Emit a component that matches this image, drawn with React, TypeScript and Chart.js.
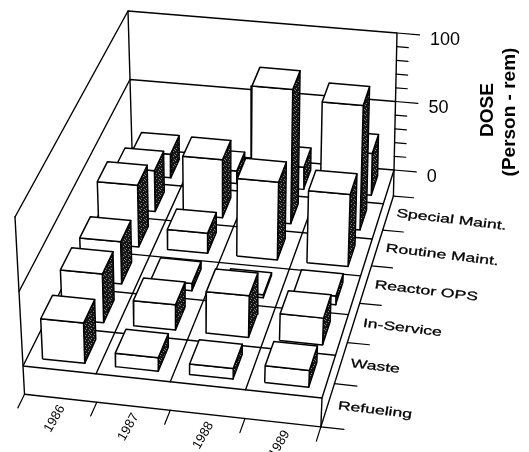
import React, { useEffect, useRef } from "react";
import { Chart, registerables } from "chart.js";

Chart.register(...registerables);

const years = ["1986", "1987", "1988", "1989"];
const categories = ["Refueling", "Waste", "In-Service", "Reactor OPS", "Routine Maint.", "Special Maint."];
const dose1986 = [27, 33, 29, 43, 29, 17];
const dose1987 = [9, 17, 5, 14, 41, 9];
const dose1988 = [7, 28, 2, 54, 95, 16];
const dose1989 = [11, 18, 6, 50, 88, 30];
const doseSeries = [dose1986, dose1987, dose1988, dose1989];
const doseTicks = [0, 10, 20, 30, 40, 50, 60, 70, 80, 90, 100];
const doseLabels = ["0", "50", "100"];

type P = [number, number];
const W = 529;
const H = 452;
// Picture-plane corners of the floor (z=0) and ceiling (z=100): front-left, front-right, back-right, back-left
const floorQuad: P[] = [[23, 366], [322, 398], [394, 170], [132, 148]];
const ceilQuad: P[] = [[15, 217], [328, 246], [397, 33], [128, 11]];
const BASE = -19;
const BAR = 0.29;

function homography(q: P[]) {
  const [[x0, y0], [x1, y1], [x2, y2], [x3, y3]] = q;
  const dx1 = x1 - x2, dx2 = x3 - x2, dy1 = y1 - y2, dy2 = y3 - y2;
  const sx = x0 - x1 + x2 - x3, sy = y0 - y1 + y2 - y3;
  const den = dx1 * dy2 - dx2 * dy1;
  const g = (sx * dy2 - dx2 * sy) / den;
  const h = (dx1 * sy - sx * dy1) / den;
  return (s: number, t: number): P => {
    const d = g * s + h * t + 1;
    return [
      ((x1 - x0 + g * x1) * s + (x3 - x0 + h * x3) * t + x0) / d,
      ((y1 - y0 + g * y1) * s + (y3 - y0 + h * y3) * t + y0) / d,
    ];
  };
}
const floorH = homography(floorQuad);
const ceilH = homography(ceilQuad);
const nU = years.length;
const nV = categories.length;

function project(u: number, v: number, z: number) {
  const a = floorH(u / nU, v / nV);
  const b = ceilH(u / nU, v / nV);
  const k = z / 100;
  return { x: a[0] + (b[0] - a[0]) * k, y: a[1] + (b[1] - a[1]) * k };
}

function makePattern() {
  const c = document.createElement("canvas");
  c.width = 5;
  c.height = 5;
  const g = c.getContext("2d")!;
  g.fillStyle = "#151515";
  g.fillRect(0, 0, 5, 5);
  g.fillStyle = "#8a8a8a";
  g.fillRect(0, 0, 1, 1);
  g.fillRect(3, 1, 1, 1);
  g.fillRect(1, 3, 1, 1);
  g.fillRect(4, 4, 1, 1);
  return g.createPattern(c, "repeat")!;
}

type Pt = { x: number; y: number };

function buildDatasets(pattern: CanvasPattern) {
  const out: any[] = [];
  let order = 100000;
  const line = (data: Pt[], width = 1.4) =>
    out.push({ data, order: order--, showLine: true, fill: false, borderColor: "#000", borderWidth: width, pointRadius: 0, tension: 0, borderJoinStyle: "round", borderCapStyle: "round" });
  const face = (data: Pt[], bg: string | CanvasPattern, width = 1.4) =>
    out.push({ data: [...data, data[0]], order: order--, showLine: true, fill: "shape", backgroundColor: bg, borderColor: "#000", borderWidth: width, pointRadius: 0, tension: 0, borderJoinStyle: "round" });

  // walls
  line([project(0, 0, 100), project(0, nV, 100), project(nU, nV, 100), project(nU, nV, BASE)]);
  line([project(0, 0, 50), project(0, nV, 50), project(nU, nV, 50)]);
  line([project(0, nV, 100), project(0, nV, 0)]);
  line([project(0, 0, 100), project(0, 0, BASE)]);
  // dose ticks
  doseTicks.forEach((t) => {
    const len = t % 50 === 0 ? 0.33 : 0.17;
    line([project(nU, nV, t), project(nU + len, nV, t)], 1.2);
  });
  // base
  face([project(0, 0, 0), project(nU, 0, 0), project(nU, nV, 0), project(0, nV, 0)], "#fff");
  line([project(0, 0, BASE), project(nU, 0, BASE), project(nU, nV, BASE)]);
  line([project(nU, 0, 0), project(nU, 0, BASE)]);
  for (let u = 1; u < nU; u++) line([project(u, 0, 0), project(u, nV, 0)]);
  for (let v = 1; v < nV; v++) line([project(0, v, 0), project(nU, v, 0)]);
  // axis ticks
  for (let u = 0; u <= nU; u++) line([project(u, 0, BASE), project(u, -0.32, BASE)], 1.2);
  for (let v = 0; v <= nV; v++) line([project(nU, v, BASE), project(nU + 0.3, v, BASE)], 1.2);

  // bars back to front, left to right
  for (let v = nV - 1; v >= 0; v--) {
    for (let u = 0; u < nU; u++) {
      const z = doseSeries[u][v];
      const u0 = u + 0.5 - BAR, u1 = u + 0.5 + BAR, v0 = v + 0.5 - BAR, v1 = v + 0.5 + BAR;
      face([project(u1, v0, 0), project(u1, v1, 0), project(u1, v1, z), project(u1, v0, z)], pattern);
      face([project(u0, v0, 0), project(u1, v0, 0), project(u1, v0, z), project(u0, v0, z)], "#fff", 1.5);
      face([project(u0, v0, z), project(u1, v0, z), project(u1, v1, z), project(u0, v1, z)], "#fff", 1.5);
    }
  }
  return out;
}

const SANS = '"Liberation Sans", Arial, sans-serif';

const textPlugin = {
  id: "labels3d",
  afterDatasetsDraw(chart: any) {
    const { ctx, scales } = chart;
    const sx = (v: number) => scales.x.getPixelForValue(v);
    const sy = (v: number) => scales.y.getPixelForValue(v);
    ctx.save();
    ctx.fillStyle = "#000";
    ctx.textBaseline = "middle";
    // dose values
    ctx.font = `18px ${SANS}`;
    ctx.textAlign = "left";
    doseLabels.forEach((t) => {
      const p = project(nU + 0.47, nV, Number(t));
      ctx.fillText(t, sx(p.x) + 1, sy(p.y) + 4);
    });
    // categories
    ctx.font = `12px ${SANS}`;
    categories.forEach((c, i) => {
      const p = project(nU + 0.24, i + 0.5, BASE);
      ctx.save();
      ctx.translate(sx(p.x) - 8, sy(p.y) - 1);
      ctx.transform(1, 0.12, -0.15, 1, 0, 0);
      ctx.scale(1.46, 1);
      ctx.fillText(c, 0, 0);
      ctx.strokeStyle = "#000";
      ctx.lineWidth = 0.25;
      ctx.strokeText(c, 0, 0);
      ctx.restore();
    });
    // years
    ctx.font = `13px ${SANS}`;
    ctx.textAlign = "center";
    years.forEach((y, i) => {
      const p = project(i + 0.55, -0.47, BASE);
      ctx.save();
      ctx.translate(sx(p.x), sy(p.y));
      ctx.rotate((-60 * Math.PI) / 180);
      ctx.fillText(y, 0, 0);
      ctx.restore();
    });
    // title
    ctx.font = `bold 19px ${SANS}`;
    ctx.save();
    ctx.translate(488, 110);
    ctx.rotate(-Math.PI / 2);
    ctx.fillText("DOSE", 0, 0);
    ctx.restore();
    ctx.save();
    ctx.translate(510, 112);
    ctx.rotate(-Math.PI / 2);
    ctx.fillText("(Person - rem)", 0, 0);
    ctx.restore();
    ctx.restore();
  },
};

export default function App() {
  const ref = useRef<HTMLCanvasElement>(null);
  useEffect(() => {
    document.body.style.margin = "0";
    document.body.style.background = "#fff";
    const chart = new Chart(ref.current!, {
      type: "scatter",
      data: { datasets: buildDatasets(makePattern()) },
      plugins: [textPlugin],
      options: {
        animation: false,
        responsive: false,
        layout: { padding: 0 },
        clip: false as any,
        plugins: { legend: { display: false }, tooltip: { enabled: false } },
        scales: {
          x: { type: "linear", min: 0, max: W, display: false },
          y: { type: "linear", min: 0, max: H, reverse: true, display: false },
        },
      },
    } as any);
    return () => chart.destroy();
  }, []);
  return <canvas ref={ref} width={W} height={H} style={{ display: "block", width: W, height: H }} />;
}
